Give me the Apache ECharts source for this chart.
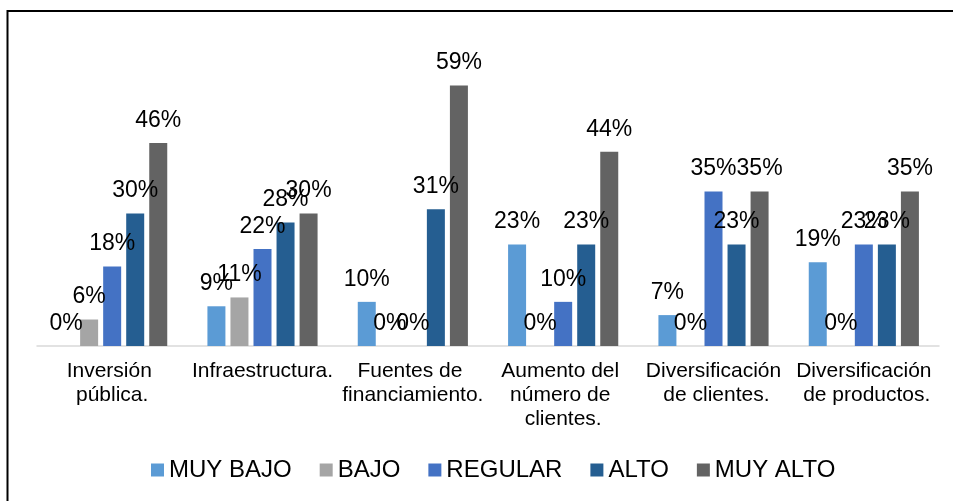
<!DOCTYPE html>
<html>
<head>
<meta charset="utf-8">
<script src="https://cdn.jsdelivr.net/npm/echarts@6/dist/echarts.min.js"></script>
<style>
  html, body { margin: 0; padding: 0; background: #fff; }
  #chart { width: 953px; height: 501px; }
</style>
</head>
<body>
<div id="chart"></div>
<script>
// categorías y valores (%)
const categories = [
  'Inversión pública.',
  'Infraestructura.',
  'Fuentes de financiamiento.',
  'Aumento del número de clientes.',
  'Diversificación de clientes.',
  'Diversificación de productos.'
]
const seriesNames = ['MUY BAJO', 'BAJO', 'REGULAR', 'ALTO', 'MUY ALTO']
const muyBajo = [0, 9, 10, 23, 7, 19]
const bajo = [6, 11, 0, 0, 0, 0]
const regular = [18, 22, 0, 10, 35, 23]
const alto = [30, 28, 31, 23, 23, 23]
const muyAlto = [46, 30, 59, 44, 35, 35]
const colors = ['#5B9BD5', '#A5A5A5', '#4472C4', '#255E91', '#636363']

const font = "'Liberation Sans', Arial, sans-serif"
const chart = echarts.init(document.getElementById('chart'))

const makeSeries = (name, data, i) => ({
  name: name,
  type: 'bar',
  data: data,
  barWidth: 18,
  barGap: '28%',
  itemStyle: { color: colors[i] },
  label: {
    show: true,
    position: 'top',
    distance: 11,
    color: '#000',
    fontFamily: font,
    fontSize: 23,
    formatter: (p) => p.value + '%'
  }
})

const allData = [muyBajo, bajo, regular, alto, muyAlto]

chart.setOption({
  animation: false,
  graphic: [{
    type: 'rect',
    shape: { x: 7.5, y: 11, width: 1000, height: 600 },
    style: { fill: 'none', stroke: '#000', lineWidth: 2 }
  }],
  legend: {
    bottom: 14,
    left: 146,
    itemWidth: 13,
    itemHeight: 13,
    itemGap: 28,
    icon: 'rect',
    textStyle: { fontFamily: font, fontSize: 24, color: '#000' },
    data: seriesNames
  },
  grid: { left: 37, right: 14, top: 37, bottom: 155 },
  xAxis: {
    type: 'category',
    data: categories,
    axisTick: { show: false },
    axisLine: { lineStyle: { color: '#D9D9D9', width: 1.5 } },
    axisLabel: {
      interval: 0,
      margin: 13,
      color: '#000',
      fontFamily: font,
      fontSize: 21,
      lineHeight: 24,
      width: 148,
      overflow: 'break'
    }
  },
  yAxis: {
    type: 'value',
    min: 0,
    max: 70,
    show: false,
    splitLine: { show: false }
  },
  series: seriesNames.map((n, i) => makeSeries(n, allData[i], i))
})
</script>
</body>
</html>
